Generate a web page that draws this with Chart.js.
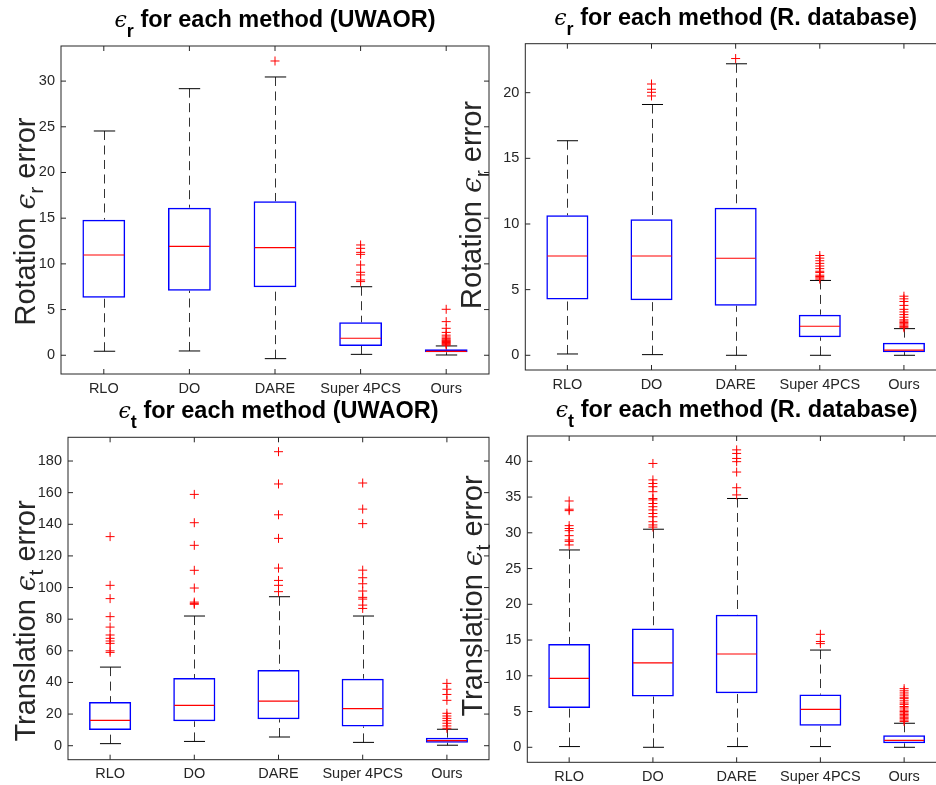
<!doctype html>
<html lang="en">
<head>
    <meta charset="utf-8">
    <title>epsilon error per method - boxplots</title>
    <script src="https://cdn.jsdelivr.net/npm/chart.js"></script>
    <style>
        html, body { margin:0; padding:0; background:#fff; overflow:hidden; }
        #wrap { position:relative; width:936px; height:785px; overflow:hidden; }
        #wrap canvas { position:absolute; left:0; top:0; }
    </style>
    <script>
        const methods = ['RLO', 'DO', 'DARE', 'Super 4PCS', 'Ours'];

        // rotation error, UWAOR
        const rotUwLow  = [0.44, 0.47, -0.37, 0.10, 0.03];
        const rotUwQ1   = [6.3, 7.07, 7.44, 1.02, 0.33];
        const rotUwMed  = [10.97, 11.92, 11.77, 1.86, 0.42];
        const rotUwQ3   = [14.84, 16.15, 16.85, 3.6, 0.65];
        const rotUwHigh = [24.54, 29.17, 30.45, 7.5, 1.02];
        const rotUwOut  = [[], [], [32.2],
            [12.07, 11.7, 11.26, 11.04, 9.88, 9.08, 8.79, 8.24, 8.06],
            [5.03, 3.68, 2.95, 2.5, 2.2, 2.0, 1.85, 1.7, 1.6, 1.5, 1.4, 1.3, 1.2, 1.1]];
        const rotUwTicks = [0, 5, 10, 15, 20, 25, 30];

        // rotation error, R. database
        const rotRdLow  = [0.1, 0.05, 0, 0, 0];
        const rotRdQ1   = [4.24, 4.19, 3.78, 1.37, 0.24];
        const rotRdMed  = [7.56, 7.56, 7.39, 2.21, 0.40];
        const rotRdQ3   = [10.66, 10.36, 11.24, 3.09, 0.96];
        const rotRdHigh = [16.34, 19.1, 22.2, 5.7, 2.03];
        const rotRdOut  = [[], [20.66, 20.26, 20.03, 19.75], [22.6],
            [7.6, 7.4, 7.2, 7.0, 6.8, 6.6, 6.4, 6.3, 6.1, 6.0, 5.9, 5.8],
            [4.5, 4.3, 4.1, 3.8, 3.5, 3.3, 3.1, 2.9, 2.7, 2.6, 2.5, 2.4, 2.3, 2.2, 2.1]];
        const rotRdTicks = [0, 5, 10, 15, 20];

        // translation error, UWAOR
        const trUwLow  = [1.3, 2.7, 5.5, 2.1, 0.3];
        const trUwQ1   = [9.9, 15.4, 16.7, 12.2, 1.9];
        const trUwMed  = [16.0, 25.5, 28.2, 23.4, 3.2];
        const trUwQ3   = [27.6, 42.8, 47.8, 42.4, 5.1];
        const trUwHigh = [49.7, 82, 94.2, 82, 10.4];
        const trUwOut  = [
            [132.2, 101.4, 93, 81.6, 75, 70, 67.9, 66.2, 64.7, 60, 59],
            [158.9, 141, 126.7, 110.9, 99.7, 90.8, 90, 89.4],
            [185.9, 165.5, 146, 131.1, 112.3, 104.5, 101.4, 97.4],
            [166.1, 149.6, 140.4, 111, 106.2, 102.4, 97.8, 93.8, 92.7, 88.9, 86.8],
            [39.4, 35.7, 32.4, 28.7, 20.5, 18.8, 17.3, 15.8, 14.2, 12.5, 11.0]];
        const trUwTicks = [0, 20, 40, 60, 80, 100, 120, 140, 160, 180];

        // translation error, R. database
        const trRdLow  = [0.1, 0, 0.1, 0.1, 0];
        const trRdQ1   = [5.5, 7.1, 7.55, 3.0, 0.56];
        const trRdMed  = [9.65, 11.8, 13.05, 5.3, 0.98];
        const trRdQ3   = [14.45, 16.6, 18.55, 7.37, 1.68];
        const trRdHigh = [27.6, 30.5, 34.8, 13.6, 3.36];
        const trRdOut  = [
            [34.45, 33.3, 33.1, 31.0, 30.6, 30.3, 29.6, 29.0, 28.8, 28.3],
            [39.7, 37.4, 36.9, 36.45, 35.75, 34.8, 34.6, 34.1, 33.65, 33.2, 32.7, 32.25, 31.55, 31.1, 30.8],
            [41.6, 41.1, 40.4, 39.95, 38.5, 36.3, 35.3],
            [15.8, 14.8, 14.5],
            [8.2, 7.9, 7.6, 7.3, 7.0, 6.8, 6.5, 6.2, 6.0, 5.7, 5.5, 5.2, 5.0, 4.8, 4.6, 4.4, 4.2, 4.0, 3.8, 3.6]];
        const trRdTicks = [0, 5, 10, 15, 20, 25, 30, 35, 40];

        const FONT = '"Liberation Sans", Arial, sans-serif';
        const GREEK = '"DejaVu Serif", serif';
        const AXIS_COLOR = '#262626';
        const W = 960, H = 785;

        // draws a run of text pieces (main / subscript) centred on x
        function drawPieces(ctx, pieces, x, y) {
            let total = 0;
            pieces.forEach(p => { ctx.font = p.font; p.w = ctx.measureText(p.t).width; total += p.w; });
            let cx = x - total / 2;
            pieces.forEach(p => {
                ctx.font = p.font;
                ctx.fillText(p.t, cx, y + (p.dy || 0));
                cx += p.w;
            });
        }

        const boxPlot = {
            id: 'boxPlot',
            beforeDatasetsDraw(chart, args, o) {
                const ctx = chart.ctx, xs = chart.scales.x, ys = chart.scales.y;
                const cat = xs.width / methods.length;
                ctx.save();
                ctx.lineWidth = 1;
                methods.forEach((m, i) => {
                    const x = Math.round(xs.getPixelForValue(i)) + 0.5;
                    // dashed whiskers
                    ctx.strokeStyle = '#333';
                    ctx.setLineDash([9, 5.5]);
                    ctx.beginPath();
                    ctx.moveTo(x, ys.getPixelForValue(o.high[i]));
                    ctx.lineTo(x, ys.getPixelForValue(o.q3[i]));
                    ctx.moveTo(x, ys.getPixelForValue(o.low[i]));
                    ctx.lineTo(x, ys.getPixelForValue(o.q1[i]));
                    ctx.stroke();
                    // caps
                    ctx.strokeStyle = '#000';
                    ctx.setLineDash([]);
                    ctx.beginPath();
                    [o.high[i], o.low[i]].forEach(v => {
                        const y = ys.getPixelForValue(v);
                        ctx.moveTo(x - cat * 0.125, y);
                        ctx.lineTo(x + cat * 0.125, y);
                    });
                    ctx.stroke();
                });
                ctx.restore();
            },
            afterDatasetsDraw(chart, args, o) {
                const ctx = chart.ctx, xs = chart.scales.x, ys = chart.scales.y;
                const cat = xs.width / methods.length;
                ctx.save();
                ctx.strokeStyle = '#ff0000';
                ctx.lineWidth = 1.2;
                ctx.beginPath();
                methods.forEach((m, i) => {
                    const x = xs.getPixelForValue(i), y = ys.getPixelForValue(o.med[i]);
                    ctx.moveTo(x - cat * 0.25 + 1, y);
                    ctx.lineTo(x + cat * 0.25 - 1, y);
                });
                ctx.stroke();
                ctx.restore();
            },
            afterDraw(chart, args, o) {
                const ctx = chart.ctx, xs = chart.scales.x, ys = chart.scales.y;
                const a = chart.chartArea;
                ctx.save();
                // axes box with inward ticks
                ctx.strokeStyle = AXIS_COLOR;
                ctx.lineWidth = 1;
                ctx.strokeRect(a.left, a.top, a.right - a.left, a.bottom - a.top);
                ctx.beginPath();
                methods.forEach((m, i) => {
                    const x = xs.getPixelForValue(i);
                    ctx.moveTo(x, a.top); ctx.lineTo(x, a.top + 5);
                    ctx.moveTo(x, a.bottom); ctx.lineTo(x, a.bottom - 5);
                });
                o.ticks.forEach(v => {
                    const y = ys.getPixelForValue(v);
                    ctx.moveTo(a.left, y); ctx.lineTo(a.left + 5, y);
                    ctx.moveTo(a.right, y); ctx.lineTo(a.right - 5, y);
                });
                ctx.stroke();

                // title
                ctx.fillStyle = '#000';
                ctx.textBaseline = 'alphabetic';
                drawPieces(ctx, [
                    { t: '\u03f5', font: 'italic 22px ' + GREEK },
                    { t: o.title.sub, font: 'bold 18px ' + FONT, dy: 10 },
                    { t: ' for each method (' + o.title.set + ')', font: 'bold 23.5px ' + FONT }
                ], (a.left + a.right) / 2, o.title.y);

                // y label, rotated
                ctx.fillStyle = AXIS_COLOR;
                ctx.translate(o.ylab.x, o.ylab.y);
                ctx.rotate(-Math.PI / 2);
                drawPieces(ctx, [
                    { t: o.ylab.text + ' ', font: '29px ' + FONT },
                    { t: '\u03f5', font: 'italic 28px ' + GREEK },
                    { t: o.ylab.sub, font: '21px ' + FONT, dy: 8 },
                    { t: ' error', font: '29px ' + FONT }
                ], 0, 0);
                ctx.restore();
            }
        };

        function makeBoxChart(id, p) {
            const outPts = [];
            p.out.forEach((arr, i) => arr.forEach(v => outPts.push({ x: methods[i], y: v })));
            return new Chart(document.getElementById(id), {
                type: 'bar',
                data: {
                    labels: methods,
                    datasets: [
                        {
                            data: methods.map((m, i) => [p.q1[i], p.q3[i]]),
                            backgroundColor: 'rgba(0,0,0,0)',
                            borderColor: '#0000ff',
                            borderWidth: 1.5,
                            borderSkipped: false,
                            barPercentage: 0.5,
                            categoryPercentage: 1
                        },
                        {
                            type: 'line',
                            data: outPts,
                            showLine: false,
                            pointStyle: 'cross',
                            pointRadius: 4.5,
                            pointBorderWidth: 1,
                            pointBorderColor: '#ff0000',
                            pointBackgroundColor: '#ff0000'
                        }
                    ]
                },
                options: {
                    responsive: false,
                    animation: false,
                    devicePixelRatio: 1,
                    events: [],
                    layout: {
                        padding: {
                            left: p.area.left - 50,
                            top: p.area.top,
                            right: W - p.area.right,
                            bottom: H - p.area.bottom - 30
                        }
                    },
                    plugins: {
                        legend: { display: false },
                        tooltip: { enabled: false },
                        boxPlot: p
                    },
                    scales: {
                        x: {
                            grid: { display: false, drawTicks: false },
                            border: { display: false },
                            ticks: { color: AXIS_COLOR, font: { family: FONT, size: 14.5 }, padding: 6, maxRotation: 0, autoSkip: false },
                            afterFit: s => { s.height = 30; }
                        },
                        y: {
                            min: p.yMin,
                            max: p.yMax,
                            grid: { display: false, drawTicks: false },
                            border: { display: false },
                            ticks: { color: AXIS_COLOR, font: { family: FONT, size: 14.5 }, padding: 6 },
                            afterBuildTicks: s => { s.ticks = p.ticks.map(v => ({ value: v })); },
                            afterFit: s => { s.width = 50; }
                        }
                    }
                },
                plugins: [boxPlot]
            });
        }

        window.addEventListener('load', () => {
            makeBoxChart('chart-0', {
                area: { left: 61, right: 489, top: 46, bottom: 374 }, yMin: -2.05, yMax: 33.84,
                ticks: rotUwTicks, low: rotUwLow, q1: rotUwQ1, med: rotUwMed, q3: rotUwQ3, high: rotUwHigh, out: rotUwOut,
                title: { sub: 'r', set: 'UWAOR', y: 27 },
                ylab: { text: 'Rotation', sub: 'r', x: 35, y: 221.5 }
            });
            makeBoxChart('chart-1', {
                area: { left: 525.3, right: 946, top: 43.7, bottom: 370 }, yMin: -1.12, yMax: 23.73,
                ticks: rotRdTicks, low: rotRdLow, q1: rotRdQ1, med: rotRdMed, q3: rotRdQ3, high: rotRdHigh, out: rotRdOut,
                title: { sub: 'r', set: 'R. database', y: 25 },
                ylab: { text: 'Rotation', sub: 'r', x: 481, y: 205 }
            });
            makeBoxChart('chart-2', {
                area: { left: 68, right: 489, top: 437.3, bottom: 759.7 }, yMin: -8.85, yMax: 195,
                ticks: trUwTicks, low: trUwLow, q1: trUwQ1, med: trUwMed, q3: trUwQ3, high: trUwHigh, out: trUwOut,
                title: { sub: 't', set: 'UWAOR', y: 418 },
                ylab: { text: 'Translation', sub: 't', x: 35, y: 621 }
            });
            makeBoxChart('chart-3', {
                area: { left: 527.3, right: 946, top: 436, bottom: 762.3 }, yMin: -2.1, yMax: 43.54,
                ticks: trRdTicks, low: trRdLow, q1: trRdQ1, med: trRdMed, q3: trRdQ3, high: trRdHigh, out: trRdOut,
                title: { sub: 't', set: 'R. database', y: 417 },
                ylab: { text: 'Translation', sub: 't', x: 482, y: 596 }
            });
        });
    </script>
</head>
<body>
    <div id="wrap">
        <canvas id="chart-0" width="960" height="785"></canvas>
        <canvas id="chart-1" width="960" height="785"></canvas>
        <canvas id="chart-2" width="960" height="785"></canvas>
        <canvas id="chart-3" width="960" height="785"></canvas>
    </div>
</body>
</html>
